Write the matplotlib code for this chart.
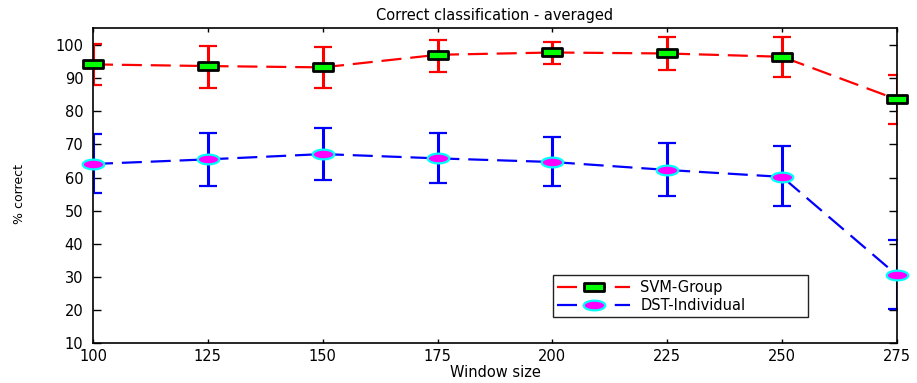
import numpy as np
import matplotlib
matplotlib.use("Agg")
import matplotlib.pyplot as plt
from matplotlib.path import Path

window_size = [100, 125, 150, 175, 200, 225, 250, 275]
svm_mean = [94.2, 93.7, 93.3, 97.1, 97.8, 97.5, 96.5, 83.6]
svm_upper = [100.5, 99.8, 99.5, 101.7, 101.1, 102.5, 102.5, 91.0]
svm_lower = [87.9, 87.2, 87.2, 92.0, 94.3, 92.6, 90.4, 76.2]
dst_mean = [64.1, 65.5, 67.1, 65.8, 64.7, 62.3, 60.2, 30.5]
dst_upper = [73.1, 73.5, 75.0, 73.4, 72.2, 70.5, 69.4, 41.1]
dst_lower = [55.3, 57.5, 59.2, 58.3, 57.3, 54.5, 51.5, 20.2]
xticks = [100, 125, 150, 175, 200, 225, 250, 275]
yticks = [10, 20, 30, 40, 50, 60, 70, 80, 90, 100]

plt.rcParams['font.family'] = ['DejaVu Sans']

fig = plt.figure(figsize=(9.17, 3.83), dpi=100)
ax = fig.add_axes([93/917, 40/383, (897-93)/917, (343-28)/383])

# custom wide markers (reference is horizontally stretched)
rect = Path([(-1, -0.42), (1, -0.42), (1, 0.42), (-1, 0.42), (-1, -0.42)],
            [Path.MOVETO, Path.LINETO, Path.LINETO, Path.LINETO, Path.CLOSEPOLY])
t = np.linspace(0, 2*np.pi, 60)
ell = Path(np.column_stack([np.cos(t), 0.45*np.sin(t)]), closed=True)

x = np.array(window_size, float)
sm = np.array(svm_mean); dm = np.array(dst_mean)
s_err = [sm - np.array(svm_lower), np.array(svm_upper) - sm]
d_err = [dm - np.array(dst_lower), np.array(dst_upper) - dm]

ax.errorbar(x, sm, yerr=s_err, fmt='none', ecolor='#ff0000', elinewidth=2.2,
            capsize=6.5, capthick=1.6, zorder=2)
ax.errorbar(x, dm, yerr=d_err, fmt='none', ecolor='#0000ff', elinewidth=2.2,
            capsize=6.5, capthick=1.6, zorder=2)

l1, = ax.plot(x, sm, color='#ff0000', lw=1.6, linestyle=(0, (9, 4)),
              marker=rect, ms=15, mfc='#00ff00', mec='black', mew=2.0,
              clip_on=False, zorder=3, label='SVM-Group')
l2, = ax.plot(x, dm, color='#0000ff', lw=1.6, linestyle=(0, (9, 4)),
              marker=ell, ms=15.5, mfc='#ff00ff', mec='#00ffff', mew=1.6,
              clip_on=False, zorder=3, label='DST-Individual')

ax.set_xlim(100, 275)
ax.set_ylim(10, 105.2)
ax.set_xticks(xticks)
ax.set_yticks(yticks)
ax.tick_params(axis='x', direction='in', length=3, width=1, top=True,
               labelsize=10.5, pad=4)
ax.tick_params(axis='y', direction='in', length=6, width=1, right=True,
               labelsize=10.5, pad=7)
for s in ax.spines.values():
    s.set_linewidth(1.2)

ax.set_title('Correct classification - averaged', fontsize=10.5, pad=6)
ax.set_xlabel('Window size', fontsize=10.5, labelpad=1)
ax.set_ylabel('% correct', fontsize=9)
ax.yaxis.set_label_coords(-0.083, 0.473)

leg = ax.legend(handles=[l1, l2], loc='lower left',
                bbox_to_anchor=(0.572, 0.0825, 0.317, 0.133), mode='expand',
                fancybox=False, framealpha=1, edgecolor='#222222',
                fontsize=10.5, handlelength=5.0, handletextpad=0.7,
                borderpad=0.3, labelspacing=0.2, borderaxespad=0)
leg.get_frame().set_linewidth(1.0)

fig.savefig('out.png', dpi=100)
